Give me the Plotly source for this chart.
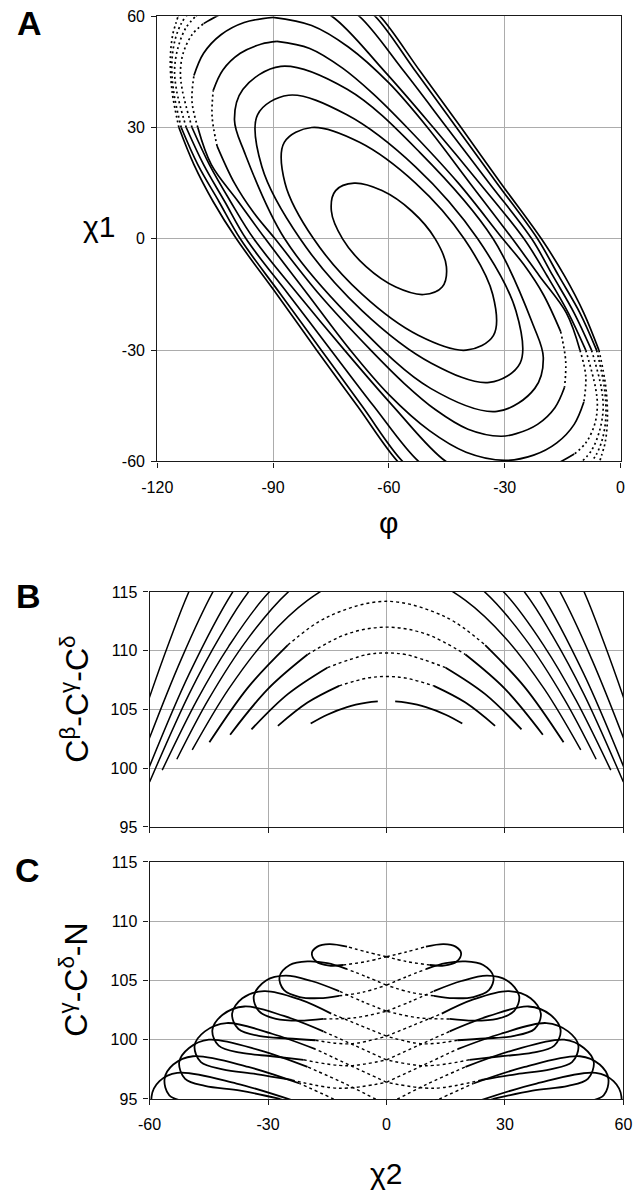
import plotly.graph_objects as go

FONT = "Arial, Liberation Sans, sans-serif"
W, H = 642, 1199

# ---------------- panel A : chi1 against phi ----------------
# closed contours, innermost first (phi, chi1); first point repeated to close the loop
A_C1 = [(-48, 0), (-54.1, 7.5), (-61.8, 13), (-69, 15), (-73.8, 13), (-74.9, 7.5), (-72, 0), (-65.9, -7.5),
        (-58.2, -13), (-51, -15), (-46.2, -13), (-45.1, -7.5), (-48, 0)]
A_C2 = [(-40.5, 0), (-53.1, 15), (-67.6, 26), (-80, 30), (-87.1, 26), (-86.9, 15), (-79.5, 0), (-66.9, -15),
        (-52.4, -26), (-40, -30), (-32.9, -26), (-33.1, -15), (-40.5, 0)]
A_C3 = [(-37, 0), (-53.1, 19.4), (-71, 33.5), (-86, 38.7), (-94, 33.5), (-92.9, 19.4), (-83, 0), (-66.9, -19.4),
        (-49, -33.5), (-34, -38.7), (-26, -33.5), (-27.1, -19.4), (-37, 0)]
A_C4 = [(-33, 0), (-52, 23.3), (-70.8, 40.3), (-88, 46.5), (-97.8, 40.3), (-100, 32), (-97.4, 23.3), (-87, 0),
        (-68, -23.3), (-49.2, -40.3), (-32, -46.5), (-22.2, -40.3), (-20, -32), (-22.6, -23.3), (-33, 0)]
A_C5 = [(-89, 53.2), (-80.5, 51.3), (-72, 46), (-64, 39), (-55.3, 30), (-42, 15), (-30.5, 0), (-25, -7), (-20, -15),
        (-15.5, -25), (-14.2, -33), (-14.5, -40), (-17, -45.5), (-21.5, -50), (-27, -52.5), (-31, -53.2),
        (-39.5, -51.3), (-48, -46), (-56, -39), (-64.7, -30), (-78, -15), (-89.5, 0), (-95, 7), (-100, 15),
        (-104.5, 25), (-105.8, 33), (-105.5, 40), (-103, 45.5), (-98.5, 50), (-93, 52.5), (-89, 53.2)]
A_C6 = [(-90, 59.7), (-80, 57.5), (-70.5, 51.7), (-60, 42), (-50, 30), (-39, 15), (-28, 0), (-21, -10), (-14, -20),
        (-10.5, -30), (-9, -37), (-9.5, -44), (-12, -50), (-16.5, -55), (-22.5, -58.3), (-30, -59.7),
        (-40, -57.5), (-49.5, -51.7), (-60, -42), (-70, -30), (-81, -15), (-92, 0), (-99, 10), (-106, 20),
        (-109.5, 30), (-111, 37), (-110.5, 44), (-108, 50), (-103.5, 55), (-97.5, 58.3), (-90, 59.7)]
# outer contours run off the frame: upper-right and lower-left arcs
A_C7_UR = [(-82, 63), (-74.8, 60), (-61, 45), (-48.5, 30), (-36.5, 15), (-25, 0), (-19, -10), (-13.5, -20),
           (-9, -30), (-6.5, -40), (-6, -45), (-6.7, -50), (-9, -55), (-12, -58), (-15.4, -60), (-22, -63)]
A_C7_LL = [(-38, -63), (-45.2, -60), (-59, -45), (-71.5, -30), (-83.5, -15), (-95, 0), (-101, 10), (-106.5, 20),
           (-111, 30), (-113.5, 40), (-114, 45), (-113.3, 50), (-111, 55), (-108, 58), (-104.6, 60), (-98, 63)]
A_C8_UR = [(-74, 64), (-67.7, 60), (-56, 45), (-45, 30), (-34, 15), (-23, 0), (-17.5, -10), (-12, -20),
           (-7.5, -30), (-5, -40), (-4.5, -46), (-5.5, -52), (-7.5, -57), (-10, -60), (-14, -64)]
A_C8_LL = [(-46, -64), (-52.3, -60), (-64, -45), (-75, -30), (-86, -15), (-97, 0), (-102.5, 10), (-108, 20),
           (-112.5, 30), (-115, 40), (-115.5, 46), (-114.5, 52), (-112.5, 57), (-110, 60), (-106, 64)]
A_C9_UR = [(-69, 64), (-63.6, 60), (-53, 45), (-42.5, 30), (-32, 15), (-21.5, 0), (-16, -10), (-10.5, -20),
           (-6.2, -30), (-4.2, -40), (-3.8, -48), (-4.7, -54), (-6.2, -58), (-7.5, -60), (-10, -64)]
A_C9_LL = [(-51, -64), (-56.4, -60), (-67, -45), (-77.5, -30), (-88, -15), (-98.5, 0), (-104, 10), (-109.5, 20),
           (-113.8, 30), (-115.8, 40), (-116.2, 48), (-115.3, 54), (-113.8, 58), (-112.5, 60), (-110, 64)]
A_C10_UR = [(-67, 64), (-62.3, 60), (-51.8, 45), (-41.3, 30), (-31, 15), (-20.5, 0), (-14.5, -10), (-9.5, -20),
            (-5.6, -30), (-3.8, -40), (-3.4, -49), (-4, -55), (-4.8, -58), (-5.4, -60), (-6.5, -64)]
A_C10_LL = [(-53, -64), (-57.7, -60), (-68.2, -45), (-78.7, -30), (-89, -15), (-99.5, 0), (-105.5, 10),
            (-110.5, 20), (-114.4, 30), (-116.2, 40), (-116.6, 49), (-116, 55), (-115.2, 58), (-114.6, 60),
            (-113.5, 64)]

A_XTICKS = [-120, -90, -60, -30, 0]
A_XTEXT = ["-120", "-90", "-60", "-30", "0"]
A_YTICKS = [-60, -30, 0, 30, 60]
A_YTEXT = ["-60", "-30", "0", "30", "60"]

# ---------------- panel B : Cb-Cg-Cd angle against chi2 ----------------
B_ARC1_L = [(-19.2, 103.8), (-15, 104.55), (-10, 105.2), (-5, 105.57), (-2.2, 105.68)]
B_ARC1_R = [(2.2, 105.68), (5, 105.57), (10, 105.2), (15, 104.55), (19.2, 103.8)]
B_ARC2 = [(-27.5, 103.6), (-20, 105.58), (-12, 107.0), (-5, 107.66), (0, 107.8), (5, 107.66), (12, 107.0),
          (20, 105.58), (27.5, 103.6)]
B_ARC3 = [(-34.2, 103.3), (-25, 106.3), (-15, 108.55), (-5, 109.66), (0, 109.8), (5, 109.66), (15, 108.55),
          (25, 106.3), (34.2, 103.3)]
B_ARC4 = [(-39.6, 102.85), (-30, 106.75), (-20, 109.67), (-10, 111.42), (0, 112), (10, 111.42), (20, 109.67),
          (30, 106.75), (39.6, 102.85)]
B_ARC5 = [(-44.85, 102.2), (-35, 106.9), (-25, 110.47), (-15, 112.86), (0, 114.2), (15, 112.86), (25, 110.47),
          (35, 106.9), (44.85, 102.2)]
B_ARC6 = [(-49.2, 101.55), (-40, 106.72), (-30, 111.13), (-20, 114.28), (-10, 116.17), (0, 116.8), (10, 116.17),
          (20, 114.28), (30, 111.13), (40, 106.72), (49.2, 101.55)]
B_ARC7 = [(-53.1, 100.76), (-45, 105.9), (-35, 111.07), (-25, 114.96), (-12, 118.07), (0, 119), (12, 118.07),
          (25, 114.96), (35, 111.07), (45, 105.9), (53.1, 100.76)]
B_ARC8 = [(-56.8, 99.83), (-48, 105.79), (-40, 110.35), (-30, 114.88), (-15, 119.24), (0, 120.7), (15, 119.24),
          (30, 114.88), (40, 110.35), (48, 105.79), (56.8, 99.83)]
B_ARC9 = [(-60, 98.82), (-50, 106.3), (-42, 111.3), (-35, 114.97), (-20, 120.58), (0, 123.3), (20, 120.58),
          (35, 114.97), (42, 111.3), (50, 106.3), (60, 98.82)]
B_ARC10 = [(-62, 98.43), (-60, 100.17), (-50, 108.0), (-39, 114.97), (-25, 121.35), (0, 125.8), (25, 121.35),
           (39, 114.97), (50, 108.0), (60, 100.17), (62, 98.43)]
B_ARC11 = [(-64, 98.9), (-60, 102.58), (-52, 109.26), (-44, 114.98), (-30, 122.7), (0, 129.4), (30, 122.7),
           (44, 114.98), (52, 109.26), (60, 102.58), (64, 98.9)]
B_ARC12 = [(-64, 102.0), (-60, 106.05), (-55, 110.75), (-50, 115.05), (-35, 125.5), (0, 135.5), (35, 125.5),
           (50, 115.05), (55, 110.75), (60, 106.05), (64, 102.0)]

BC_XTICKS = [-60, -30, 0, 30, 60]
BC_XTEXT = ["-60", "-30", "0", "30", "60"]
BC_YTICKS = [95, 100, 105, 110, 115]
BC_YTEXT = ["95", "100", "105", "110", "115"]

# ---------------- panel C : Cg-Cd-N angle against chi2 ----------------
# one lobe per trajectory; the first and last two steps are the sparse tails near chi2 = 0
C_R1 = [(0, 107.0), (5, 107.4), (10, 107.85), (14.5, 108.06), (17.5, 107.85), (18.9, 107.3), (17.8, 106.6),
        (14.5, 106.25), (11, 106.3), (5, 106.6), (0, 107.0)]
C_R2 = [(0, 104.6), (5, 105.3), (10, 105.95), (15, 106.45), (20, 106.6), (24.5, 106.3), (27.1, 105.3), (26, 104.2),
        (22, 103.6), (17, 103.5), (12, 103.7), (6, 104.0), (0, 104.6)]
C_R3 = [(0, 102.4), (6, 103.2), (12, 104.1), (19, 104.95), (25.5, 105.4), (30.5, 105.0), (33.6, 103.7),
        (32.3, 102.4), (28, 101.75), (22, 101.6), (16, 101.75), (8, 101.85), (0, 102.4)]
C_R4 = [(0, 100.3), (7, 101.25), (14, 102.2), (22, 103.4), (31, 104.1), (36.5, 103.5), (39.1, 102.2), (37.5, 100.9),
        (32, 100.3), (25, 100.1), (18, 99.95), (9, 99.65), (0, 100.3)]
C_R5 = [(0, 98.3), (8, 99.5), (16, 100.7), (26, 102.0), (36, 102.8), (41.5, 102.1), (44.1, 100.8), (42.5, 99.5),
        (37, 98.9), (29, 98.6), (21, 98.3), (10, 97.8), (0, 98.3)]
C_R6 = [(0, 96.4), (9, 97.8), (18, 99.2), (29, 100.5), (40.5, 101.4), (46, 100.7), (48.6, 99.5), (47, 98.1),
        (41.5, 97.5), (33, 97.1), (24, 96.6), (12, 95.9), (0, 96.4)]
C_R7 = [(0, 94.5), (10, 96.2), (20, 97.7), (32, 99.1), (45, 100.0), (50, 99.3), (52.5, 98.1), (51, 96.7),
        (46, 96.1), (37, 95.7), (27, 95.0), (14, 94.1), (0, 94.5)]
C_R8 = [(0, 92.6), (11, 94.6), (22, 96.3), (35, 97.7), (49, 98.6), (54, 97.9), (56.2, 96.7), (55, 95.3),
        (50, 94.7), (41, 94.2), (30, 93.5), (15, 92.4), (0, 92.6)]
C_R9 = [(0, 90.7), (12, 93.0), (24, 94.9), (38, 96.3), (53, 97.2), (57.5, 96.5), (59.5, 95.2), (58.5, 93.9),
        (54, 93.3), (45, 92.8), (34, 92.0), (17, 90.8), (0, 90.7)]
C_L1 = [(0, 107.0), (-5, 107.4), (-10, 107.85), (-14.5, 108.06), (-17.5, 107.85), (-18.9, 107.3), (-17.8, 106.6),
        (-14.5, 106.25), (-11, 106.3), (-5, 106.6), (0, 107.0)]
C_L2 = [(0, 104.6), (-5, 105.3), (-10, 105.95), (-15, 106.45), (-20, 106.6), (-24.5, 106.3), (-27.1, 105.3),
        (-26, 104.2), (-22, 103.6), (-17, 103.5), (-12, 103.7), (-6, 104.0), (0, 104.6)]
C_L3 = [(0, 102.4), (-6, 103.2), (-12, 104.1), (-19, 104.95), (-25.5, 105.4), (-30.5, 105.0), (-33.6, 103.7),
        (-32.3, 102.4), (-28, 101.75), (-22, 101.6), (-16, 101.75), (-8, 101.85), (0, 102.4)]
C_L4 = [(0, 100.3), (-7, 101.25), (-14, 102.2), (-22, 103.4), (-31, 104.1), (-36.5, 103.5), (-39.1, 102.2),
        (-37.5, 100.9), (-32, 100.3), (-25, 100.1), (-18, 99.95), (-9, 99.65), (0, 100.3)]
C_L5 = [(0, 98.3), (-8, 99.5), (-16, 100.7), (-26, 102.0), (-36, 102.8), (-41.5, 102.1), (-44.1, 100.8),
        (-42.5, 99.5), (-37, 98.9), (-29, 98.6), (-21, 98.3), (-10, 97.8), (0, 98.3)]
C_L6 = [(0, 96.4), (-9, 97.8), (-18, 99.2), (-29, 100.5), (-40.5, 101.4), (-46, 100.7), (-48.6, 99.5), (-47, 98.1),
        (-41.5, 97.5), (-33, 97.1), (-24, 96.6), (-12, 95.9), (0, 96.4)]
C_L7 = [(0, 94.5), (-10, 96.2), (-20, 97.7), (-32, 99.1), (-45, 100.0), (-50, 99.3), (-52.5, 98.1), (-51, 96.7),
        (-46, 96.1), (-37, 95.7), (-27, 95.0), (-14, 94.1), (0, 94.5)]
C_L8 = [(0, 92.6), (-11, 94.6), (-22, 96.3), (-35, 97.7), (-49, 98.6), (-54, 97.9), (-56.2, 96.7), (-55, 95.3),
        (-50, 94.7), (-41, 94.2), (-30, 93.5), (-15, 92.4), (0, 92.6)]
C_L9 = [(0, 90.7), (-12, 93.0), (-24, 94.9), (-38, 96.3), (-53, 97.2), (-57.5, 96.5), (-59.5, 95.2), (-58.5, 93.9),
        (-54, 93.3), (-45, 92.8), (-34, 92.0), (-17, 90.8), (0, 90.7)]

SPARSE = "2px,3px"


def px_x(p):
    return p / W


def px_y(p):
    return 1 - p / H


fig = go.Figure()


def add_curve(pts, xa, ya, width=1.7, dash="solid"):
    fig.add_trace(go.Scatter(
        x=[p[0] for p in pts], y=[p[1] for p in pts], mode="lines",
        line=dict(color="black", width=width, shape="spline", smoothing=1.0, dash=dash),
        xaxis=xa, yaxis=ya, showlegend=False, hoverinfo="skip"))


def add_pieces(pts, sparse_spans, xa, ya, width=1.7):
    # draw a contour in pieces; the index spans listed are where the sampled points thin out
    start = 0
    for a, b in sparse_spans:
        add_curve(pts[start:a + 1], xa, ya, width)
        add_curve(pts[a:b + 1], xa, ya, width, SPARSE)
        start = b
    add_curve(pts[start:], xa, ya, width)


for c in [A_C1, A_C2, A_C3, A_C4]:
    add_curve(c, "x", "y", 1.7)
add_pieces(A_C5, [(9, 11), (24, 26)], "x", "y")
add_pieces(A_C6, [(9, 11), (24, 26)], "x", "y")
for c in [A_C7_UR, A_C7_LL, A_C8_UR, A_C8_LL, A_C9_UR, A_C9_LL, A_C10_UR, A_C10_LL]:
    add_pieces(c, [(8, 13)], "x", "y")

# arcs: solid flanks, sparse (dotted) middle for the wide ones
add_curve(B_ARC1_L, "x2", "y2", 1.8)
add_curve(B_ARC1_R, "x2", "y2", 1.8)
for c in [B_ARC2, B_ARC3, B_ARC4, B_ARC5]:
    add_curve(c[:3], "x2", "y2", 1.8)
    add_curve(c[2:-2], "x2", "y2", 1.4, "dot")
    add_curve(c[-3:], "x2", "y2", 1.8)
for c in [B_ARC6, B_ARC7, B_ARC8, B_ARC9, B_ARC10, B_ARC11, B_ARC12]:
    add_curve(c, "x2", "y2", 1.5)

for c in [C_R1, C_R2, C_R3, C_R4, C_R5, C_R6, C_R7, C_R8, C_R9,
          C_L1, C_L2, C_L3, C_L4, C_L5, C_L6, C_L7, C_L8, C_L9]:
    add_curve(c[:3], "x3", "y3", 1.4, "dot")
    add_curve(c[2:-2], "x3", "y3", 1.8)
    add_curve(c[-3:], "x3", "y3", 1.4, "dot")

axis_common = dict(
    showgrid=True, gridcolor="#acacac", gridwidth=1, zeroline=False,
    showline=True, linecolor="#1a1a1a", linewidth=1.2, mirror=True,
    ticks="outside", ticklen=5, tickcolor="#1a1a1a",
    tickfont=dict(family=FONT, size=16, color="black"),
)

fig.update_layout(
    width=W, height=H, margin=dict(l=0, r=0, t=0, b=0),
    paper_bgcolor="white", plot_bgcolor="white", showlegend=False,
    xaxis=dict(axis_common, domain=[px_x(147), px_x(629)], range=[-120, 0], anchor="y",
               tickvals=A_XTICKS, ticktext=A_XTEXT, ticklabelstandoff=6),
    yaxis=dict(axis_common, domain=[px_y(460), px_y(8.3)], range=[-60, 60], anchor="x",
               tickvals=A_YTICKS, ticktext=A_YTEXT, ticklabelstandoff=3),
    xaxis2=dict(axis_common, domain=[px_x(139), px_x(632)], range=[-60, 60], anchor="y2",
                tickvals=BC_XTICKS, showticklabels=False),
    yaxis2=dict(axis_common, domain=[px_y(830.7), px_y(592.3)], range=[95, 115], anchor="x2",
                tickvals=BC_YTICKS, ticktext=BC_YTEXT, ticklabelstandoff=3),
    xaxis3=dict(axis_common, domain=[px_x(139), px_x(632)], range=[-60, 60], anchor="y3",
                tickvals=BC_XTICKS, ticktext=BC_XTEXT, ticklabelstandoff=6),
    yaxis3=dict(axis_common, domain=[px_y(1106.6), px_y(866.2)], range=[95, 115], anchor="x3",
                tickvals=BC_YTICKS, ticktext=BC_YTEXT, ticklabelstandoff=3),
)


def label(text, x, y, size, angle=0):
    fig.add_annotation(text=text, x=px_x(x), y=px_y(y), xref="paper", yref="paper",
                       xanchor="center", yanchor="middle", showarrow=False, textangle=angle,
                       font=dict(family=FONT, size=size, color="black"))


label("<b>A</b>", 14, 15, 34)
label("<b>B</b>", 13, 596, 34)
label("<b>C</b>", 12, 874, 34)
label("χ1", 86, 222, 30)
label("φ", 388, 522, 30)
label("χ2", 385, 1182, 30)
label("C<sup>β</sup>-C<sup>γ</sup>-C<sup>δ</sup>", 61, 701, 32, -90)
label("C<sup>γ</sup>-C<sup>δ</sup>-N", 60, 986, 32, -90)

fig.write_html("out.html", config={"displayModeBar": False},
               post_script="document.body.style.margin='0';")
